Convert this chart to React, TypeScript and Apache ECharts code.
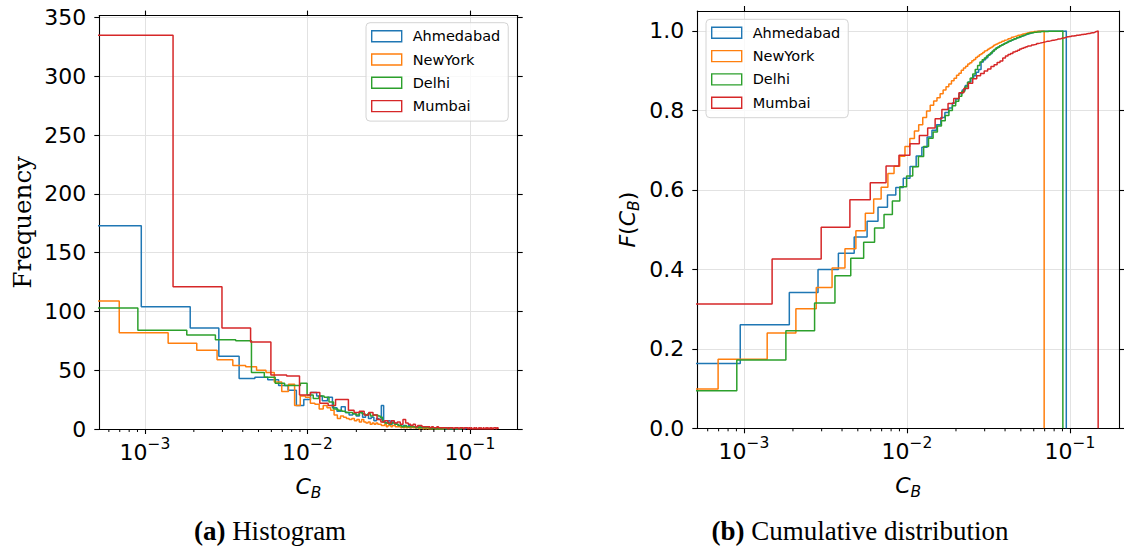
import React, { useEffect, useRef } from "react";
import * as echarts from "echarts";

// ---- data -----------------------------------------------------------------

const CITIES = ["Ahmedabad", "NewYork", "Delhi", "Mumbai"];
const CITY_COLORS = ["#1f77b4", "#ff7f0e", "#2ca02c", "#d62728"];

// Betweenness values of every city are split into 100 equal-width bins from 0 to its maximum.
const BIN_COUNT = 100;
const CITY_MAX_CB = [0.095, 0.0695, 0.0905, 0.149];

const AHMEDABAD_COUNTS = [
  173, 104, 86, 62, 43, 44, 42, 37, 33, 20,
  25, 31, 28, 24, 27, 18, 15, 19, 14, 12,
  13, 11, 14, 10, 12, 9, 10, 7, 9, 8,
  20, 6, 5, 7, 4, 6, 5, 4, 3, 3,
  2, 3, 2, 2, 3, 1, 2, 2, 2, 1,
  2, 1, 1, 2, 1, 1, 2, 1, 1, 1,
  1, 1, 1, 1, 0, 1, 0, 1, 0, 0,
  0, 0, 0, 0, 0, 0, 0, 0, 0, 0,
  0, 0, 0, 0, 0, 0, 0, 0, 0, 0,
  0, 0, 0, 0, 0, 0, 0, 0, 0, 1,
];

const NEWYORK_COUNTS = [
  109, 82, 73, 67, 59, 54, 53, 50, 48, 40,
  32, 38, 20, 28, 27, 22, 21, 17, 20, 18,
  16, 12, 9, 11, 10, 9, 8, 9, 7, 8,
  6, 8, 6, 5, 6, 4, 5, 4, 5, 4,
  4, 3, 3, 4, 2, 3, 3, 2, 3, 3,
  2, 2, 2, 2, 1, 2, 1, 2, 1, 1,
  2, 1, 1, 2, 1, 1, 1, 1, 1, 1,
  0, 1, 1, 1, 0, 1, 1, 0, 1, 1,
  0, 1, 0, 1, 0, 0, 1, 0, 0, 0,
  0, 1, 0, 0, 0, 0, 0, 0, 0, 1,
];

const DELHI_COUNTS = [
  103, 84, 80, 76, 75, 48, 44, 39, 37, 37,
  39, 29, 26, 28, 27, 23, 17, 16, 15, 14,
  14, 13, 12, 14, 13, 12, 13, 11, 12, 12,
  11, 10, 6, 5, 5, 4, 5, 5, 4, 4,
  3, 3, 2, 2, 3, 2, 2, 2, 2, 2,
  2, 1, 2, 1, 2, 1, 1, 2, 1, 1,
  2, 1, 1, 0, 1, 0, 1, 0, 0, 1,
  0, 0, 0, 1, 0, 0, 0, 0, 0, 0,
  0, 1, 0, 0, 0, 0, 0, 0, 0, 0,
  0, 0, 0, 0, 0, 0, 0, 0, 0, 1,
];

const MUMBAI_COUNTS = [
  335, 121, 86, 74, 46, 45, 29, 31, 22, 20,
  25, 25, 16, 14, 15, 12, 14, 12, 8, 6,
  7, 5, 7, 5, 6, 4, 8, 5, 4, 3,
  4, 2, 3, 3, 2, 2, 2, 2, 1, 2,
  1, 1, 2, 1, 1, 1, 1, 1, 1, 0,
  1, 1, 1, 0, 1, 1, 1, 0, 1, 1,
  1, 0, 1, 1, 1, 0, 1, 0, 1, 0,
  0, 1, 0, 1, 0, 0, 1, 0, 1, 0,
  0, 1, 0, 0, 1, 0, 1, 0, 0, 1,
  0, 1, 0, 0, 1, 1, 1, 0, 1, 1,
];

const CITY_COUNTS = [AHMEDABAD_COUNTS, NEWYORK_COUNTS, DELHI_COUNTS, MUMBAI_COUNTS];

// Axis ranges and tick values
const HIST_X_RANGE = [5.24e-4, 0.1968];
const CDF_X_RANGE = [5.18e-4, 0.2];
const HIST_Y_MAX = 351.75;
const CDF_Y_MAX = 1.05;
const HIST_Y_TICKS = [0, 50, 100, 150, 200, 250, 300, 350];
const CDF_Y_TICKS = [0, 0.2, 0.4, 0.6, 0.8, 1.0];
const X_MAJOR_TICKS = [1e-3, 1e-2, 1e-1];
const X_MINOR_TICKS = [
  6e-4, 7e-4, 8e-4, 9e-4,
  2e-3, 3e-3, 4e-3, 5e-3, 6e-3, 7e-3, 8e-3, 9e-3,
  2e-2, 3e-2, 4e-2, 5e-2, 6e-2, 7e-2, 8e-2, 9e-2,
];

// ---- helpers --------------------------------------------------------------

// A bin edge at 0 cannot sit on a log axis; it is moved below the visible range and clipped.
const LOG_FLOOR = 1e-5;

function binEdges(maxValue: number): number[] {
  const edges: number[] = [];
  for (let k = 0; k <= BIN_COUNT; k++) edges.push((k * maxValue) / BIN_COUNT);
  return edges;
}

// Outline of a step histogram: up the first edge, across each bin, down the last edge.
function stepOutline(edges: number[], heights: number[]): [number, number][] {
  const x = (v: number) => Math.max(v, LOG_FLOOR);
  const pts: [number, number][] = [[x(edges[0]), 0]];
  heights.forEach((h, i) => {
    pts.push([x(edges[i]), h], [x(edges[i + 1]), h]);
  });
  pts.push([x(edges[edges.length - 1]), 0]);
  return pts;
}

function cumulativeFraction(counts: number[]): number[] {
  const total = counts.reduce((a, b) => a + b, 0);
  let run = 0;
  return counts.map((c) => {
    run += c;
    return run / total;
  });
}

// ---- styling --------------------------------------------------------------

const SANS = "'DejaVu Sans', sans-serif";
const SERIF = "'DejaVu Serif', serif";
const CAPTION_FONT = "'Liberation Serif', serif";
const CAPTION_SIZE = 27;
const LINE_WIDTH = 1.5;
const FRAME = { color: "#000", width: 1.1 };
const GRIDLINE = { color: "#e2e2e2", width: 1 };

const GRIDS = [
  { left: 99.3, top: 15.6, width: 418.4, height: 413.4 },
  { left: 697.3, top: 11, width: 421.7, height: 417.3 },
];

function powerLabel(v: number): string {
  const exp = Math.round(Math.log10(v));
  return `{b|10}{s|${exp < 0 ? "\u2212" : ""}${Math.abs(exp)}}`;
}

const POWER_RICH = {
  b: { fontSize: 22, fontFamily: SANS, color: "#000", lineHeight: 27, verticalAlign: "bottom" },
  s: { fontSize: 15.5, fontFamily: SANS, color: "#000", lineHeight: 16, verticalAlign: "top" },
};

// Italic math letters with a lowered subscript
const MATH_RICH = {
  i: { fontSize: 22, fontFamily: SANS, fontStyle: "italic", color: "#000", lineHeight: 30, verticalAlign: "middle" },
  r: { fontSize: 22, fontFamily: SANS, color: "#000", lineHeight: 30, verticalAlign: "middle" },
  s: { fontSize: 15.5, fontFamily: SANS, fontStyle: "italic", color: "#000", lineHeight: 18, verticalAlign: "bottom" },
};

function bottomLogAxis(gridIndex: number, range: number[]) {
  return {
    gridIndex,
    type: "log",
    logBase: 10,
    min: range[0],
    max: range[1],
    position: "bottom",
    axisLine: { show: true, onZero: false, lineStyle: FRAME },
    axisTick: { show: true, inside: false, length: 5, customValues: X_MAJOR_TICKS, lineStyle: FRAME },
    axisLabel: { show: true, customValues: X_MAJOR_TICKS, formatter: powerLabel, rich: POWER_RICH, margin: 7 },
    splitLine: { show: true, lineStyle: GRIDLINE },
    minorTick: { show: false },
    name: "{i|C}{s|B}",
    nameLocation: "middle",
    nameGap: 42,
    nameTextStyle: { rich: MATH_RICH },
  };
}

function topLogAxis(gridIndex: number, range: number[]) {
  return {
    gridIndex,
    type: "log",
    logBase: 10,
    min: range[0],
    max: range[1],
    position: "top",
    axisLine: { show: true, onZero: false, lineStyle: FRAME },
    axisTick: { show: true, inside: false, length: 5, customValues: X_MAJOR_TICKS, lineStyle: FRAME },
    axisLabel: { show: false },
    splitLine: { show: false },
  };
}

function valueAxis(
  gridIndex: number,
  position: "left" | "right",
  max: number,
  interval: number,
  ticks: number[],
  decimals: number,
  extra: Record<string, unknown> = {}
) {
  const isLeft = position === "left";
  return {
    gridIndex,
    type: "value",
    position,
    min: 0,
    max,
    interval,
    axisLine: { show: true, onZero: false, lineStyle: FRAME },
    axisTick: { show: true, inside: false, length: 5, customValues: ticks, lineStyle: FRAME },
    axisLabel: {
      show: isLeft,
      customValues: ticks,
      formatter: (v: number) => v.toFixed(decimals),
      fontSize: 22,
      fontFamily: SANS,
      color: "#000",
      margin: 13,
    },
    splitLine: { show: isLeft, lineStyle: GRIDLINE },
    ...extra,
  };
}

function minorTickSeries(axisIndex: number) {
  return {
    type: "custom",
    xAxisIndex: axisIndex,
    yAxisIndex: axisIndex,
    data: X_MINOR_TICKS.map((v) => [v, 0]),
    clip: false,
    silent: true,
    z: 10,
    renderItem: (_params: unknown, api: any) => {
      const p = api.coord([api.value(0), 0]);
      return {
        type: "line",
        shape: { x1: p[0], y1: p[1], x2: p[0], y2: p[1] + 3 },
        style: { stroke: "#000", lineWidth: 1 },
      };
    },
  };
}

function legendFor(left: number, top: number) {
  return {
    left,
    top,
    orient: "vertical",
    selectedMode: false,
    data: CITIES.map((name, i) => ({
      name,
      icon: "rect",
      itemStyle: { color: "rgba(255,255,255,0)", borderColor: CITY_COLORS[i], borderWidth: 1.4 },
    })),
    itemWidth: 30,
    itemHeight: 11,
    itemGap: 7.3,
    padding: [5.5, 8, 7, 5],
    textStyle: { fontFamily: SANS, fontSize: 14.5, color: "#000", lineHeight: 16, padding: [0, 0, 0, 6] },
    backgroundColor: "rgba(255,255,255,0.8)",
    borderColor: "#d4d4d4",
    borderWidth: 1,
    borderRadius: 4,
  };
}

function caption(x: number, tag: string, title: string) {
  return {
    type: "text",
    x,
    y: 531,
    style: {
      text: `{b|${tag}} {r|${title}}`,
      align: "center",
      verticalAlign: "middle",
      font: `${CAPTION_SIZE}px ${CAPTION_FONT}`,
      fill: "#000",
      rich: {
        b: { fontWeight: "bold", fontFamily: CAPTION_FONT, fontSize: CAPTION_SIZE, fill: "#000" },
        r: { fontFamily: CAPTION_FONT, fontSize: CAPTION_SIZE, fill: "#000" },
      },
    },
  };
}

function buildOption() {
  const series: any[] = [];
  CITIES.forEach((name, i) => {
    const edges = binEdges(CITY_MAX_CB[i]);
    series.push({
      name,
      type: "line",
      xAxisIndex: 0,
      yAxisIndex: 0,
      data: stepOutline(edges, CITY_COUNTS[i]),
      symbol: "none",
      showSymbol: false,
      clip: true,
      lineStyle: { color: CITY_COLORS[i], width: LINE_WIDTH },
      itemStyle: { color: CITY_COLORS[i] },
      z: 3,
    });
  });
  CITIES.forEach((name, i) => {
    const edges = binEdges(CITY_MAX_CB[i]);
    series.push({
      name,
      type: "line",
      xAxisIndex: 2,
      yAxisIndex: 2,
      data: stepOutline(edges, cumulativeFraction(CITY_COUNTS[i])),
      symbol: "none",
      showSymbol: false,
      clip: true,
      lineStyle: { color: CITY_COLORS[i], width: LINE_WIDTH },
      itemStyle: { color: CITY_COLORS[i] },
      z: 3,
    });
  });
  series.push(minorTickSeries(0), minorTickSeries(2));

  return {
    animation: false,
    backgroundColor: "#fff",
    textStyle: { fontFamily: SANS },
    grid: GRIDS.map((g) => ({ ...g, containLabel: false, outerBoundsMode: "none" })),
    xAxis: [
      bottomLogAxis(0, HIST_X_RANGE),
      topLogAxis(0, HIST_X_RANGE),
      bottomLogAxis(1, CDF_X_RANGE),
      topLogAxis(1, CDF_X_RANGE),
    ],
    yAxis: [
      valueAxis(0, "left", HIST_Y_MAX, 50, HIST_Y_TICKS, 0, {
        name: "Frequency",
        nameLocation: "middle",
        nameGap: 64,
        nameTextStyle: { fontFamily: SERIF, fontSize: 24.5, color: "#000" },
      }),
      valueAxis(0, "right", HIST_Y_MAX, 50, HIST_Y_TICKS, 0),
      valueAxis(1, "left", CDF_Y_MAX, 0.2, CDF_Y_TICKS, 1, {
        name: "{i|F}{r|(}{i|C}{s|B}{r|)}",
        nameLocation: "middle",
        nameGap: 55,
        nameTextStyle: { rich: MATH_RICH },
      }),
      valueAxis(1, "right", CDF_Y_MAX, 0.2, CDF_Y_TICKS, 1),
    ],
    legend: [legendFor(366, 22.7), legendFor(706, 19.3)],
    graphic: [caption(270, "(a)", "Histogram"), caption(860, "(b)", "Cumulative distribution")],
    series,
  };
}

export default function App() {
  const ref = useRef<HTMLDivElement>(null);
  useEffect(() => {
    if (!ref.current) return;
    const chart = echarts.init(ref.current, null, { renderer: "svg" });
    chart.setOption(buildOption() as any);
    return () => chart.dispose();
  }, []);
  return (
    <div
      ref={ref}
      style={{ position: "fixed", left: 0, top: 0, width: 1124, height: 549, background: "#fff" }}
    />
  );
}
